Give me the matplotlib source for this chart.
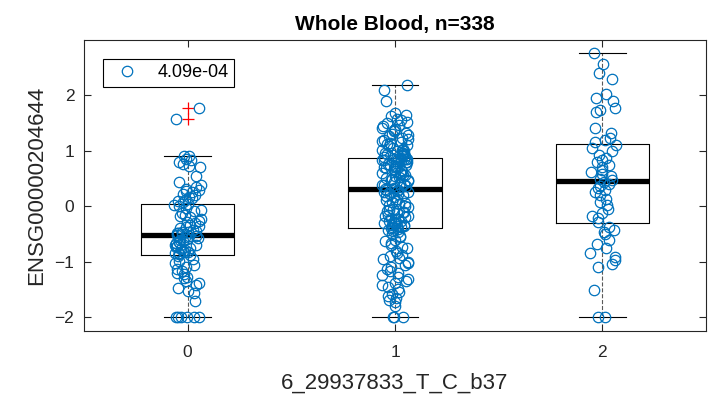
import numpy as np
import matplotlib.pyplot as plt

plt.rcParams['font.family'] = ['Liberation Sans', 'DejaVu Sans']

title = 'Whole Blood, n=338'
xlabel = '6_29937833_T_C_b37'
ylabel = 'ENSG00000204644'
legend_label = '4.09e-04'
genotypes = ['0', '1', '2']

# expression values per genotype group
g0 = [1.78, 1.58, 0.91, 0.9, 0.86, 0.84, 0.8, 0.76, 0.72, 0.7, 0.54,
      0.43, 0.38, 0.35, 0.32, 0.3, 0.27, 0.25, 0.22, 0.2, 0.17, 0.15, 0.12, 0.1, 0.08,
      0.04, 0.02, 0.0, -0.03, -0.06, -0.09, -0.12, -0.15, -0.18, -0.2, -0.23, -0.26,
      -0.28, -0.3, -0.33, -0.35, -0.37, -0.4, -0.42, -0.44, -0.46, -0.47, -0.48, -0.49, -0.5,
      -0.52, -0.53, -0.54, -0.55, -0.57, -0.59, -0.6, -0.62, -0.64, -0.65, -0.67, -0.69,
      -0.7, -0.72, -0.74, -0.75, -0.77, -0.78, -0.8, -0.82, -0.83, -0.84, -0.85, -0.86, -0.87,
      -0.9, -0.95, -0.98, -1.02, -1.06, -1.1, -1.13, -1.16, -1.2, -1.23, -1.27, -1.3,
      -1.34, -1.38, -1.42, -1.47, -1.52, -1.56, -1.7, -2.0, -2.0, -2.0, -2.0, -2.0, -2.0]

g1 = [2.19, 2.1, 1.9, 1.69, 1.65, 1.62, 1.58, 1.55, 1.52, 1.5, 1.47, 1.44, 1.42, 1.4,
      1.37, 1.35, 1.33, 1.3, 1.28, 1.26, 1.24, 1.22, 1.2, 1.18, 1.16, 1.14, 1.12, 1.1,
      1.08, 1.06, 1.04, 1.02, 1.01, 1.0, 0.99, 0.97, 0.96, 0.95, 0.94, 0.93, 0.92, 0.91,
      0.9, 0.89, 0.88,
      0.86, 0.86, 0.86, 0.85, 0.85, 0.84, 0.83, 0.82, 0.81, 0.8, 0.79, 0.78, 0.77, 0.75,
      0.74, 0.73, 0.71, 0.7, 0.69, 0.67, 0.66, 0.64, 0.63, 0.61, 0.6, 0.59, 0.57, 0.56,
      0.54, 0.53, 0.51, 0.5, 0.48, 0.47, 0.45, 0.44, 0.42, 0.41, 0.39, 0.38, 0.36, 0.35,
      0.33, 0.32,
      0.3, 0.29, 0.28, 0.26, 0.25, 0.23, 0.22, 0.2, 0.18, 0.16, 0.14, 0.12, 0.1, 0.08,
      0.06, 0.04, 0.02, 0.0, -0.02, -0.04, -0.06, -0.08, -0.1, -0.11, -0.13, -0.15, -0.17,
      -0.18, -0.2, -0.21, -0.23, -0.24, -0.26, -0.27, -0.29, -0.3, -0.31, -0.32, -0.33,
      -0.34, -0.35, -0.36, -0.37, -0.38, -0.39,
      -0.41, -0.43, -0.45, -0.47, -0.5, -0.53, -0.56, -0.6, -0.63, -0.66, -0.7, -0.73,
      -0.76, -0.8, -0.84, -0.87, -0.9, -0.93, -0.96, -1.0, -1.03, -1.06, -1.1, -1.13,
      -1.17, -1.2, -1.24, -1.28, -1.31, -1.35, -1.38, -1.42, -1.46, -1.5, -1.54, -1.58,
      -1.62, -1.66, -1.69, -1.72, -1.8, -2.0, -2.0, -2.0]

g2 = [2.76, 2.56, 2.41, 2.29, 2.02, 1.95, 1.9, 1.78, 1.74, 1.7, 1.42, 1.33, 1.24, 1.2, 1.16,
      1.1, 1.05, 1.0, 0.92, 0.88, 0.84, 0.8, 0.75, 0.7, 0.66, 0.62, 0.58, 0.54, 0.5, 0.47,
      0.43, 0.4, 0.37, 0.33, 0.3, 0.25, 0.2, 0.14, 0.08, 0.02, -0.05, -0.12, -0.18, -0.22, -0.28,
      -0.38, -0.42, -0.47, -0.5, -0.6, -0.68, -0.75, -0.85, -0.91, -0.97, -1.04, -1.09,
      -1.51, -2.0, -2.0]

groups = [g0, g1, g2]
blue = '#0072BD'
grey = '#262626'

fig = plt.figure(figsize=(7.18, 4.04), dpi=100)
ax = fig.add_axes([84/718, 73/404, 622/718, 291/404])

ax.boxplot(groups, positions=[0, 1, 2], widths=0.45, manage_ticks=False,
           boxprops=dict(color='black', lw=0.8),
           medianprops=dict(color='black', lw=3.8, solid_capstyle='butt'),
           whiskerprops=dict(color='0.35', lw=0.8, ls='--'),
           capprops=dict(color='black', lw=0.8),
           flierprops=dict(marker='+', markeredgecolor='red', markersize=9, mew=0.9))

# horizontal jitter so the points don't pile up (hash of the index, fixed)
for k, g in enumerate(groups):
    y = np.array(g)
    i = np.arange(len(y)) + 1.0 + 100 * k
    h = (np.sin(i * 12.9898) * 43758.5453) % 1
    off = (h - 0.5) * 0.13
    ax.plot(k + off, y, 'o', mfc='none', mec=blue, ms=7.5, mew=0.9, zorder=3,
            label=legend_label if k == 0 else None)

ax.set_xlim(-0.5, 2.5)
ax.set_ylim(-2.25, 3.0)
ax.set_xticks([0, 1, 2])
ax.set_xticklabels(genotypes)
ax.set_yticks([-2, -1, 0, 1, 2])
ax.tick_params(direction='in', length=4.7, width=0.8, top=True, right=True,
               labelsize=12.5, colors=grey, pad=7)
ax.tick_params(axis='x', pad=10)
for s in ax.spines.values():
    s.set_linewidth(0.8)
    s.set_color(grey)

ax.set_title(title, fontsize=15, fontweight='bold', pad=7)
ax.set_xlabel(xlabel, fontsize=16, color=grey, labelpad=9)
ax.set_ylabel(ylabel, fontsize=16, color=grey, labelpad=5)

leg = ax.legend(loc='upper left', bbox_to_anchor=(0.031, 0.935), borderaxespad=0,
                fontsize=13, fancybox=False, framealpha=1, edgecolor='black',
                borderpad=0.3, handletextpad=0.7)
leg.get_frame().set_linewidth(0.8)

fig.savefig('out.png', dpi=100)
